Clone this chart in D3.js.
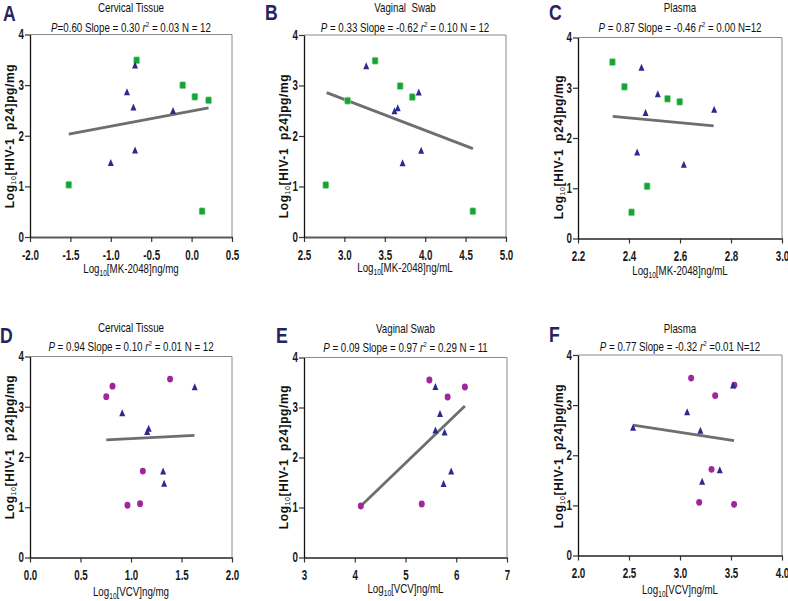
<!DOCTYPE html>
<html>
<head>
<meta charset="utf-8">
<script src="https://cdn.jsdelivr.net/npm/d3@7"></script>
<style>
  body { margin: 0; background: #fff; }
  svg { display: block; }
  text { white-space: pre; }
</style>
</head>
<body>
<script>
// six scatter panels: HIV-1 p24 vs drug level

const panelLetters = ["A", "B", "C", "D", "E", "F"];
const panelTitles = ["Cervical Tissue", "Vaginal  Swab", "Plasma", "Cervical Tissue", "Vaginal Swab", "Plasma"];
const panelStats = [
  { p: "=0.60", rest: " Slope = 0.30 ", r2: " = 0.03 N = 12" },
  { p: " = 0.33", rest: " Slope = -0.62 ", r2: " = 0.10 N = 12" },
  { p: " = 0.87", rest: " Slope = -0.46 ", r2: " = 0.00 N=12" },
  { p: " = 0.94", rest: " Slope = 0.10 ", r2: " = 0.01 N = 12" },
  { p: " = 0.09", rest: " Slope = 0.97 ", r2: " = 0.29 N = 11" },
  { p: " = 0.77", rest: " Slope = -0.32 ", r2: " =0.01 N=12" }
];
const xLabelDrug = ["MK-2048", "MK-2048", "MK-2048", "VCV", "VCV", "VCV"];
const xLabelUnit = ["ng/mg", "ng/mL", "ng/mL", "ng/mg", "ng/mL", "ng/mL"];
const xDomains = [[-2, 0.5], [2.5, 5], [2.2, 3], [0, 2], [3, 7], [2, 4]];
const xTicks = [
  [-2.0, -1.5, -1.0, -0.5, 0.0, 0.5],
  [2.5, 3.0, 3.5, 4.0, 4.5, 5.0],
  [2.2, 2.4, 2.6, 2.8, 3.0],
  [0.0, 0.5, 1.0, 1.5, 2.0],
  [3, 4, 5, 6, 7],
  [2.0, 2.5, 3.0, 3.5, 4.0]
];
const yTicks = [0, 1, 2, 3, 4];

// MK-2048 (top row): green squares + blue triangles
const mkCervicalSquares = [[-1.52, 1.03], [-0.68, 3.49], [-0.11, 3.0], [0.04, 2.77], [0.21, 2.70], [0.13, 0.51]];
const mkCervicalTriangles = [[-0.70, 3.39], [-0.80, 2.86], [-0.72, 2.56], [-0.23, 2.49], [-0.70, 1.71], [-1.0, 1.46]];
const mkCervicalFit = [[-1.52, 2.03], [0.21, 2.55]];

const mkSwabSquares = [[2.77, 1.03], [3.04, 2.70], [3.38, 3.49], [3.69, 2.99], [3.84, 2.77], [4.59, 0.51]];
const mkSwabTriangles = [[3.27, 3.38], [3.62, 2.49], [3.66, 2.55], [3.92, 2.86], [3.72, 1.46], [3.95, 1.71]];
const mkSwabFit = [[2.78, 2.86], [4.59, 1.75]];

const mkPlasmaSquares = [[2.335, 3.51], [2.382, 3.02], [2.551, 2.78], [2.599, 2.72], [2.471, 1.04], [2.41, 0.52]];
const mkPlasmaTriangles = [[2.449, 3.40], [2.513, 2.87], [2.465, 2.50], [2.734, 2.56], [2.432, 1.71], [2.615, 1.47]];
const mkPlasmaFit = [[2.336, 2.43], [2.732, 2.24]];

// VCV (bottom row): magenta circles + blue triangles
const vcvCervicalCircles = [[0.755, 3.20], [0.817, 3.41], [1.387, 3.55], [1.117, 1.72], [0.965, 1.04], [1.09, 1.07]];
const vcvCervicalTriangles = [[1.631, 3.39], [0.913, 2.87], [1.175, 2.56], [1.16, 2.50], [1.318, 1.71], [1.328, 1.47]];
const vcvCervicalFit = [[0.755, 2.34], [1.628, 2.43]];

const vcvSwabCircles = [[4.12, 1.03], [5.32, 1.07], [5.47, 3.55], [5.83, 3.21], [6.17, 3.41]];
const vcvSwabTriangles = [[5.59, 3.41], [5.68, 2.87], [5.59, 2.54], [5.77, 2.50], [5.90, 1.72], [5.75, 1.47]];
const vcvSwabFit = [[4.12, 1.03], [6.17, 3.03]];

const vcvPlasmaCircles = [[3.109, 3.54], [3.345, 3.19], [3.533, 3.40], [3.309, 1.72], [3.188, 1.06], [3.53, 1.02]];
const vcvPlasmaTriangles = [[2.54, 2.55], [3.07, 2.86], [3.20, 2.49], [3.52, 3.39], [3.39, 1.70], [3.217, 1.47]];
const vcvPlasmaFit = [[2.54, 2.60], [3.53, 2.29]];

const firstMarks = [mkCervicalSquares, mkSwabSquares, mkPlasmaSquares, vcvCervicalCircles, vcvSwabCircles, vcvPlasmaCircles];
const triangleMarks = [mkCervicalTriangles, mkSwabTriangles, mkPlasmaTriangles, vcvCervicalTriangles, vcvSwabTriangles, vcvPlasmaTriangles];
const fitLines = [mkCervicalFit, mkSwabFit, mkPlasmaFit, vcvCervicalFit, vcvSwabFit, vcvPlasmaFit];

// plot frames in page pixels
const frames = [
  { l: 30, r: 232, t: 34.5, b: 237, ly: 136, lx: 10, ty: 12, sy: 31.5, xy: 273 },
  { l: 304, r: 506, t: 35, b: 237, ly: 146, lx: 284, ty: 12, sy: 32, xy: 272 },
  { l: 578, r: 782, t: 37.5, b: 238.5, ly: 147, lx: 559, ty: 12, sy: 32, xy: 275 },
  { l: 30, r: 232, t: 356.5, b: 557.5, ly: 447, lx: 10, ty: 332, sy: 351, xy: 596 },
  { l: 304, r: 507, t: 357.5, b: 557.5, ly: 457, lx: 284, ty: 333, sy: 352, xy: 593 },
  { l: 578, r: 782, t: 355, b: 555.5, ly: 456, lx: 559, ty: 333, sy: 351, xy: 594 }
];
const letterPos = [[3, 21], [265, 20], [549, 20], [0, 343], [276, 343], [549, 342]];

const sans = "'Liberation Sans', Arial, sans-serif";
const squeeze = 0.78; // the figure uses a condensed face
const tickSqueeze = 0.7;

const svg = d3.select("body").append("svg")
  .attr("width", 788)
  .attr("height", 601);

// condensed text: a group moved to (x, y) and squeezed horizontally
function narrowText(parent, x, y, size) {
  return parent.append("g")
    .attr("transform", `translate(${x},${y}) scale(${squeeze},1)`)
    .append("text")
    .attr("text-anchor", "middle")
    .attr("font-family", sans)
    .attr("font-size", size)
    .attr("fill", "#111");
}

frames.forEach((f, i) => {
  const x = d3.scaleLinear().domain(xDomains[i]).range([f.l, f.r]);
  const y = d3.scaleLinear().domain([0, 4]).range([f.b, f.t]);
  const g = svg.append("g");

  // light top + right border
  g.append("path")
    .attr("d", `M${f.l},${f.t}H${f.r}V${f.b}`)
    .attr("fill", "none")
    .attr("stroke", "#8a8a8a")
    .attr("stroke-width", 1);

  const fmt = i === 4 ? d3.format("d") : d3.format(".1f");

  g.append("g")
    .attr("transform", `translate(0,${f.b})`)
    .call(d3.axisBottom(x).tickValues(xTicks[i]).tickFormat(fmt).tickSize(5).tickSizeOuter(0))
    .call((a) => a.select(".domain").attr("stroke", "#5a5a5a").attr("stroke-width", 2))
    .call((a) => a.selectAll(".tick line").attr("stroke", "#333").attr("stroke-width", 1.2))
    .call((a) =>
      a.selectAll(".tick text")
        .attr("font-family", sans)
        .attr("font-size", 14)
        .attr("font-weight", "bold")
        .attr("fill", "#1a1a1a")
        .attr("y", 23)
        .attr("dy", 0)
        .attr("transform", `scale(${tickSqueeze},1)`)
        .text((d) => fmt(d).replace("\u2212", "-"))
    );

  g.append("g")
    .attr("transform", `translate(${f.l},0)`)
    .call(d3.axisLeft(y).tickValues(yTicks).tickFormat(d3.format("d")).tickSize(5).tickSizeOuter(0))
    .call((a) => a.select(".domain").attr("stroke", "#111").attr("stroke-width", 1.3))
    .call((a) => a.selectAll(".tick line").attr("stroke", "#333").attr("stroke-width", 1.2))
    .call((a) =>
      a.selectAll(".tick text")
        .attr("font-family", sans)
        .attr("font-size", 14)
        .attr("font-weight", "bold")
        .attr("fill", "#1a1a1a")
        .attr("x", -6 / tickSqueeze)
        .attr("transform", `scale(${tickSqueeze},1)`)
    );

  // regression line
  g.append("path")
    .datum(fitLines[i])
    .attr("d", d3.line().x((d) => x(d[0])).y((d) => y(d[1])))
    .attr("fill", "none")
    .attr("stroke", "#6e6e6e")
    .attr("stroke-width", 2.8);

  // first group: squares on top row, circles on bottom row
  if (i < 3) {
    g.selectAll(".sq")
      .data(firstMarks[i])
      .join("rect")
      .attr("x", (d) => x(d[0]) - 3)
      .attr("y", (d) => y(d[1]) - 3.5)
      .attr("width", 6)
      .attr("height", 7)
      .attr("rx", 1.2)
      .attr("fill", "#14a53a")
      .attr("stroke", "#b8e0a0")
      .attr("stroke-width", 0.6);
  } else {
    g.selectAll(".ci")
      .data(firstMarks[i])
      .join("ellipse")
      .attr("cx", (d) => x(d[0]))
      .attr("cy", (d) => y(d[1]))
      .attr("rx", 3)
      .attr("ry", 3.4)
      .attr("fill", "#a0279b");
  }

  g.selectAll(".tri")
    .data(triangleMarks[i])
    .join("path")
    .attr("d", (d) => {
      const cx = x(d[0]), cy = y(d[1]);
      return `M${cx},${cy - 4}L${cx + 3},${cy + 3}L${cx - 3},${cy + 3}Z`;
    })
    .attr("fill", "#2b2a8e");

  // titles
  const cx = (f.l + f.r) / 2;
  narrowText(g, cx, f.ty, 12.5).text(panelTitles[i]);

  const st = narrowText(g, cx, f.sy, 12.5);
  st.append("tspan").attr("font-style", "italic").text("P");
  st.append("tspan").text(panelStats[i].p + panelStats[i].rest);
  st.append("tspan").attr("font-style", "italic").text("r");
  st.append("tspan").attr("font-size", 8).attr("dy", -5).text("2");
  st.append("tspan").attr("dy", 5).text(panelStats[i].r2);

  // x label
  const xl = narrowText(g, cx, f.xy, 12.5);
  xl.append("tspan").text("Log");
  xl.append("tspan").attr("font-size", 8.5).attr("dy", 3).text("10");
  xl.append("tspan").attr("dy", -3).text(`[${xLabelDrug[i]}]${xLabelUnit[i]}`);

  // y label
  const yl = g.append("text")
    .attr("transform", `translate(${f.lx},${f.ly}) rotate(-90)`)
    .attr("text-anchor", "middle")
    .attr("dy", "0.35em")
    .attr("font-family", sans)
    .attr("font-weight", "bold")
    .attr("font-size", 12)
    .attr("letter-spacing", 0.6)
    .attr("fill", "#111");
  yl.append("tspan").text("Log");
  yl.append("tspan").attr("font-size", 7).attr("font-weight", "normal").attr("dy", 2).text("10");
  yl.append("tspan").attr("dy", -2).text("[HIV-1  p24]pg/mg");

  // panel letter
  svg.append("g")
    .attr("transform", `translate(${letterPos[i][0]},${letterPos[i][1]}) scale(0.8,1)`)
    .append("text")
    .attr("font-family", sans)
    .attr("font-weight", "bold")
    .attr("font-size", 22)
    .attr("fill", "#27235e")
    .text(panelLetters[i]);
});
</script>
</body>
</html>
